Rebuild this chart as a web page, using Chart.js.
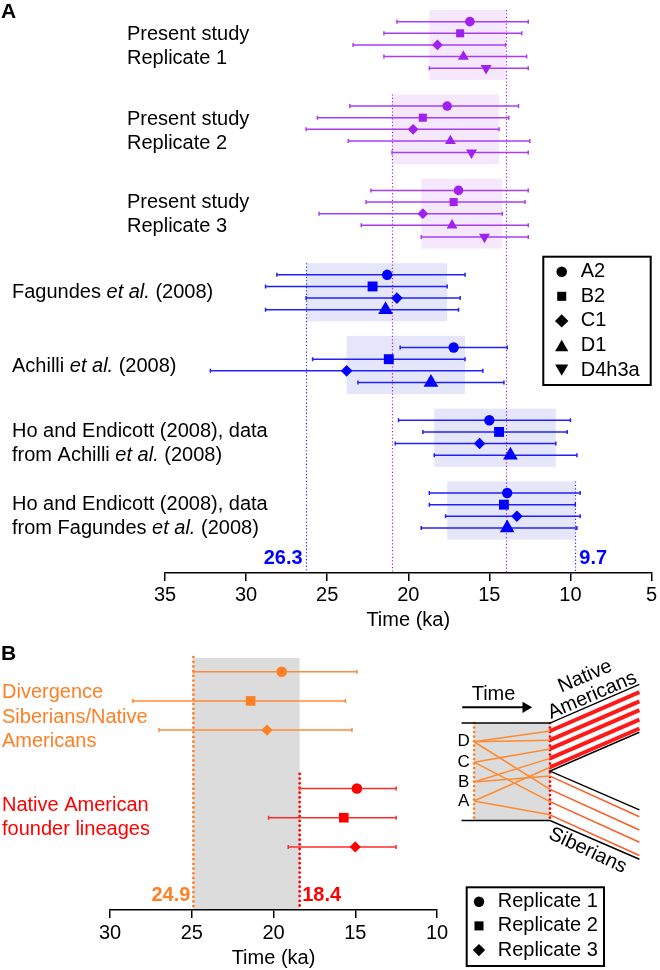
<!DOCTYPE html>
<html lang="en">
<head>
<meta charset="utf-8">
<title>Haplogroup ages</title>
<script src="https://cdn.jsdelivr.net/npm/chart.js@4.4.1/dist/chart.umd.min.js"></script>
<style>
  html, body { margin: 0; padding: 0; background: #fff; }
  #figure { position: relative; width: 660px; height: 970px; overflow: hidden; background: #fff; }
  #figure canvas { position: absolute; }
</style>
</head>
<body>
<div id="figure">
  <canvas id="panel-a" width="660" height="640" style="left:0;top:0"></canvas>
  <canvas id="panel-b" width="660" height="340" style="left:0;top:630px"></canvas>
  <canvas id="panel-b-scheme" width="220" height="240" style="left:440px;top:640px"></canvas>
</div>
<script>
(function () {
  'use strict';

  var FONT = '"Liberation Sans", Arial, Helvetica, sans-serif';

  // ---------------------------------------------------------------------------
  // Panel A data: haplogroup ages (ka), each row [estimate, older, younger]
  // ---------------------------------------------------------------------------

  var HAPLOGROUPS = ['A2', 'B2', 'C1', 'D1', 'D4h3a'];

  var REPLICATE_1 = [[16.2, 20.7, 12.6], [16.8, 21.5, 13.0], [18.2, 23.4, 14.0], [16.6, 21.5, 12.7], [15.2, 18.7, 12.6]];
  var REPLICATE_2 = [[17.6, 23.6, 13.2], [19.1, 25.6, 13.8], [19.7, 26.3, 14.4], [17.4, 23.7, 12.5], [16.1, 21.0, 12.6]];
  var REPLICATE_3 = [[16.9, 22.3, 12.6], [17.2, 22.6, 12.8], [19.1, 25.5, 14.2], [17.3, 22.9, 12.6], [15.3, 19.2, 12.6]];
  var FAGUNDES    = [[21.3, 28.1, 16.5], [22.2, 28.8, 17.6], [20.7, 26.3, 16.8], [21.4, 28.8, 16.9]];
  var ACHILLI     = [[17.2, 20.5, 13.9], [21.2, 25.9, 16.5], [23.8, 32.2, 15.4], [18.6, 23.1, 14.1]];
  var HO_ACHILLI  = [[15.0, 20.6, 10.0], [14.4, 19.1, 10.2], [15.6, 20.8, 10.9], [13.7, 18.4, 9.6]];
  var HO_FAGUNDES = [[13.9, 18.7, 9.4], [14.1, 18.7, 9.7], [13.3, 17.7, 9.4], [13.9, 19.2, 9.6]];

  // shaded range of each study (ka): [older, younger]
  var STUDY_RANGES = [[18.7, 14.0], [21.0, 14.4], [19.2, 14.2], [26.3, 17.6], [23.8, 16.5], [18.4, 10.9], [17.6, 9.7]];

  var STUDY_ROWS = [REPLICATE_1, REPLICATE_2, REPLICATE_3, FAGUNDES, ACHILLI, HO_ACHILLI, HO_FAGUNDES];
  var STUDY_KIND = ['present', 'present', 'present', 'published', 'published', 'published', 'published'];

  // *...* = italic
  var STUDY_LABELS = [
    ['Present study', 'Replicate 1'],
    ['Present study', 'Replicate 2'],
    ['Present study', 'Replicate 3'],
    ['Fagundes *et al.* (2008)'],
    ['Achilli *et al.* (2008)'],
    ['Ho and Endicott (2008), data', 'from Achilli *et al.* (2008)'],
    ['Ho and Endicott (2008), data', 'from Fagundes *et al.* (2008)']
  ];

  var TICKS_A = [35, 30, 25, 20, 15, 10, 5];

  // ---------------------------------------------------------------------------
  // Panel B data (ka), each row [estimate, older, younger]
  // ---------------------------------------------------------------------------

  var REPLICATES   = ['Replicate 1', 'Replicate 2', 'Replicate 3'];
  var DIVERGENCE   = [[19.5, 24.9, 14.9], [21.4, 28.6, 15.6], [20.4, 27.0, 15.2]];
  var FOUNDER_AGES = [[14.9, 18.4, 12.5], [15.7, 20.3, 12.5], [15.0, 19.1, 12.5]];
  var B_SERIES     = [DIVERGENCE, FOUNDER_AGES];
  var B_LABELS     = [['Divergence', 'Siberians/Native', 'Americans'], ['Native American', 'founder lineages']];
  var B_RANGE      = [24.9, 18.4];
  var TICKS_B      = [30, 25, 20, 15, 10];

  // Schematic (panel B, right), in schematic units
  var FOUNDER_LETTERS = ['D', 'C', 'B', 'A'];
  var FOUNDER_LANE    = [100.7, 122.3, 143.3, 163.3];
  var AMERICAN_FROM   = [0, 0, 1, 2, 3];
  var AMERICAN_LANE   = [89.3, 99, 108.3, 118.3, 127.7];
  var AMERICAN_END    = [48.3, 58, 67.3, 77.3, 86.7];
  var SIBERIAN_FROM   = [2, 0, 1, 3];
  var SIBERIAN_LANE   = [137, 151, 164, 178];
  var SIBERIAN_END    = [180, 194, 207, 221];

  // ---------------------------------------------------------------------------
  // Layout and styles
  // ---------------------------------------------------------------------------

  var MARKERS    = ['circle', 'rect', 'rectRot', 'triangle', 'triangle'];
  var MARKER_ROT = [0, 0, 0, 0, 180];

  var KIND_STYLE = {
    present:   { mark: '#A020F0', bar: '#A63FF2', band: '#F5E8FD', line: '#A020F0', values: false,
                 radius: [4.8, 5.7, 5.4, 6.3, 6.3] },
    published: { mark: '#0000FF', bar: '#2020FF', band: '#E6E6FA', line: '#2B2BFF', values: true,
                 radius: [5.2, 7.0, 5.8, 8.5, 8.5] }
  };

  var A_ROW_FIRST = 1.13, A_GROUP_GAP = 2.25, A_Y_MAX = 48.5, A_VALUE_ROW = 47.26;
  var A_LABEL_X = [127, 127, 127, 12, 12, 12, 12];
  var A_LABEL_SHIFT = [2, 2.5, 0.5, 0, 1.5, 6, 6];
  var A_LEGEND = { x: 543.3, y: 256.7, w: 107.4, h: 128.3, markX: 561.7, textX: 580.7, rowY: 271.7, rowGap: 24.6,
                   radius: [5.3, 6.4, 6.7, 7.6, 7.6] };

  var B_STYLE = [
    { mark: '#FF7F24', bar: '#FF8A3D', text: '#FF7F24' },
    { mark: '#FF0000', bar: '#FF2B2B', text: '#FF0000' }
  ];
  var B_ROW_START = [0, 4];
  var B_LABEL_ROW = [1.56, 5.0];
  var B_RADIUS = [5.3, 6.8, 5.6];
  var B_VALUE_ROW = 7.65;
  var B_TOP = 630;
  var B_LEGEND = { x: 466.7, y: 887.3 - B_TOP, w: 137.3, h: 78.7, markX: 479, textX: 497.7, rowY: 901.7 - B_TOP, rowGap: 24.2,
                   radius: [5.2, 6.4, 6.2] };

  var SCHEME = { start: 16, divergence: 29.3, split: 110, end: 205, top: 81, bottom: 184, fork: 131.7,
                 forkTop: 90.7, forkBottom: 172.7, topEnd: 40, bottomEnd: 225 };

  var LINE_GAP = 24;

  Chart.defaults.font.family = FONT;
  Chart.defaults.color = '#000';

  // ---------------------------------------------------------------------------
  // Utilities
  // ---------------------------------------------------------------------------

  function setFont(ctx, size, weight, style) {
    ctx.font = (style || 'normal') + ' ' + (weight || 'normal') + ' ' + size + 'px ' + FONT;
  }

  function drawRichLine(ctx, text, x, y, size, color) {
    ctx.fillStyle = color;
    ctx.textBaseline = 'middle';
    ctx.textAlign = 'left';
    text.split('*').forEach(function (part, i) {
      if (!part) return;
      setFont(ctx, size, 'normal', i % 2 ? 'italic' : 'normal');
      ctx.fillText(part, x, y);
      x += ctx.measureText(part).width;
    });
  }

  function drawMarker(ctx, style, x, y, r, rot) {
    ctx.beginPath();
    if (style === 'circle') {
      ctx.arc(x, y, r, 0, Math.PI * 2);
    } else if (style === 'rect') {
      var s = r * Math.SQRT1_2;
      ctx.rect(x - s, y - s, 2 * s, 2 * s);
    } else if (style === 'rectRot') {
      ctx.moveTo(x - r, y); ctx.lineTo(x, y - r); ctx.lineTo(x + r, y); ctx.lineTo(x, y + r);
    } else {
      var a = rot ? Math.PI : 0;
      y += rot ? -r / 4 : r / 4;
      for (var k = 0; k < 3; k++) {
        var ang = a + k * 2 * Math.PI / 3;
        ctx.lineTo(x + Math.sin(ang) * r, y - Math.cos(ang) * r);
      }
    }
    ctx.closePath();
    ctx.fill();
  }

  function dottedLine(ctx, x, y0, y1, color, width, dash, cap) {
    ctx.save();
    ctx.strokeStyle = color;
    ctx.lineWidth = width;
    ctx.lineCap = cap;
    ctx.setLineDash(dash);
    ctx.beginPath();
    ctx.moveTo(x, y0);
    ctx.lineTo(x, y1);
    ctx.stroke();
    ctx.restore();
  }

  function drawErrorBars(ctx, xs, ys, ds) {
    if (!ds.errorColor) return;
    var cap = 2;
    ctx.save();
    ctx.strokeStyle = ds.errorColor;
    ctx.lineWidth = 1.5;
    ds.data.forEach(function (p) {
      var y = ys.getPixelForValue(p.y);
      var x0 = xs.getPixelForValue(p.lo);
      var x1 = xs.getPixelForValue(p.hi);
      ctx.beginPath();
      ctx.moveTo(x0, y); ctx.lineTo(x1, y);
      ctx.moveTo(x0, y - cap); ctx.lineTo(x0, y + cap);
      ctx.moveTo(x1, y - cap); ctx.lineTo(x1, y + cap);
      ctx.stroke();
    });
    ctx.restore();
  }

  function timeAxis(ticks, axisHeight, tickPad) {
    return {
      type: 'linear',
      reverse: true,
      min: Math.min.apply(null, ticks),
      max: Math.max.apply(null, ticks),
      afterBuildTicks: function (s) { s.ticks = ticks.map(function (v) { return { value: v }; }); },
      afterFit: function (s) { s.height = axisHeight; },
      border: { display: true, color: '#000', width: 1.5 },
      grid: { display: true, drawOnChartArea: false, drawTicks: true, tickLength: 8, color: '#000', lineWidth: 1.5 },
      ticks: { color: '#000', padding: tickPad, font: { size: 20 }, maxRotation: 0, autoSkip: false },
      title: { display: true, text: 'Time (ka)', color: '#000', font: { size: 20 }, padding: 0 }
    };
  }

  function baseOptions(padding, scales) {
    return {
      responsive: false,
      animation: false,
      devicePixelRatio: 1,
      events: [],
      layout: { padding: padding },
      plugins: { legend: { display: false }, tooltip: { enabled: false } },
      scales: scales
    };
  }

  // ---------------------------------------------------------------------------
  // Panel A
  // ---------------------------------------------------------------------------

  var rowCursor = A_ROW_FIRST;
  var GROUPS_A = STUDY_ROWS.map(function (rows, i) {
    var first = rowCursor;
    rowCursor += rows.length + A_GROUP_GAP;
    return { rows: rows, first: first, last: first + rows.length - 1, kind: STUDY_KIND[i],
             range: STUDY_RANGES[i], label: STUDY_LABELS[i] };
  });

  var datasetsA = GROUPS_A.map(function (g) {
    var st = KIND_STYLE[g.kind];
    return {
      data: g.rows.map(function (r, i) { return { x: r[0], y: g.first + i, lo: r[1], hi: r[2] }; }),
      pointStyle: g.rows.map(function (r, i) { return MARKERS[i]; }),
      pointRotation: g.rows.map(function (r, i) { return MARKER_ROT[i]; }),
      pointRadius: g.rows.map(function (r, i) { return st.radius[i]; }),
      pointBackgroundColor: st.mark,
      pointBorderWidth: 0,
      clip: false,
      errorColor: st.bar
    };
  });

  // outermost shaded edges per study kind, drawn as dotted guides
  function envelope(kind) {
    var gs = GROUPS_A.filter(function (g) { return g.kind === kind; });
    var older = gs.reduce(function (a, b) { return b.range[0] > a.range[0] ? b : a; });
    var younger = gs.reduce(function (a, b) { return b.range[1] < a.range[1] ? b : a; });
    return [
      { value: older.range[0], top: older.first - 1, side: -1 },
      { value: younger.range[1], top: younger.first - 1, side: 1 }
    ];
  }

  var panelAPlugin = {
    id: 'panelA',
    beforeDatasetsDraw: function (chart) {
      var ctx = chart.ctx, xs = chart.scales.x, ys = chart.scales.y;
      ctx.save();
      GROUPS_A.forEach(function (g) {
        var x0 = xs.getPixelForValue(g.range[0]);
        var x1 = xs.getPixelForValue(g.range[1]);
        var y0 = ys.getPixelForValue(g.first - 1);
        var y1 = ys.getPixelForValue(g.last + 1);
        ctx.fillStyle = KIND_STYLE[g.kind].band;
        ctx.fillRect(x0, y0, x1 - x0, y1 - y0);
      });
      Object.keys(KIND_STYLE).forEach(function (kind) {
        envelope(kind).forEach(function (e) {
          var x = Math.round(xs.getPixelForValue(e.value)) + 0.5;
          dottedLine(ctx, x, ys.getPixelForValue(e.top), ys.bottom, KIND_STYLE[kind].line, 1.2, [1.2, 2.2], 'butt');
        });
      });
      chart.data.datasets.forEach(function (ds) { drawErrorBars(ctx, xs, ys, ds); });
      ctx.restore();
    },
    afterDraw: function (chart) {
      var ctx = chart.ctx, xs = chart.scales.x, ys = chart.scales.y;
      ctx.save();
      ctx.textBaseline = 'middle';
      ctx.textAlign = 'left';
      ctx.fillStyle = '#000';
      setFont(ctx, 21, 'bold');
      ctx.fillText('A', 1, 12.5);

      GROUPS_A.forEach(function (g, i) {
        var cy = ys.getPixelForValue((g.first + g.last) / 2) + A_LABEL_SHIFT[i];
        var n = g.label.length;
        g.label.forEach(function (line, k) {
          drawRichLine(ctx, line, A_LABEL_X[i], cy + (k - (n - 1) / 2) * LINE_GAP, 20, '#000');
        });
      });

      Object.keys(KIND_STYLE).forEach(function (kind) {
        if (!KIND_STYLE[kind].values) return;
        envelope(kind).forEach(function (e) {
          var x = xs.getPixelForValue(e.value);
          setFont(ctx, 20, 'bold');
          ctx.fillStyle = KIND_STYLE[kind].mark;
          ctx.textAlign = e.side < 0 ? 'right' : 'left';
          ctx.fillText(e.value.toFixed(1), x + (e.side < 0 ? -3.5 : 4), ys.getPixelForValue(A_VALUE_ROW));
        });
      });

      var L = A_LEGEND;
      ctx.lineWidth = 2;
      ctx.strokeStyle = '#000';
      ctx.strokeRect(L.x, L.y, L.w, L.h);
      HAPLOGROUPS.forEach(function (h, i) {
        var y = L.rowY + i * L.rowGap;
        ctx.fillStyle = '#000';
        drawMarker(ctx, MARKERS[i], L.markX, y, L.radius[i], MARKER_ROT[i]);
        setFont(ctx, 20);
        ctx.textAlign = 'left';
        ctx.fillText(h, L.textX, y);
      });
      ctx.restore();
    }
  };

  new Chart(document.getElementById('panel-a'), {
    type: 'scatter',
    data: { datasets: datasetsA },
    options: baseOptions({ left: 165, right: 6, top: 0, bottom: 8 }, {
      x: timeAxis(TICKS_A, 59, 2),
      y: { type: 'linear', display: false, reverse: true, min: 0, max: A_Y_MAX }
    }),
    plugins: [panelAPlugin]
  });

  // ---------------------------------------------------------------------------
  // Panel B (left): divergence and founder ages
  // ---------------------------------------------------------------------------

  var datasetsB = B_SERIES.map(function (rows, s) {
    return {
      data: rows.map(function (r, i) { return { x: r[0], y: B_ROW_START[s] + i, lo: r[1], hi: r[2] }; }),
      pointStyle: rows.map(function (r, i) { return MARKERS[i]; }),
      pointRadius: rows.map(function (r, i) { return B_RADIUS[i]; }),
      pointBackgroundColor: B_STYLE[s].mark,
      pointBorderWidth: 0,
      clip: false,
      errorColor: B_STYLE[s].bar
    };
  });

  var panelBPlugin = {
    id: 'panelB',
    beforeDatasetsDraw: function (chart) {
      var ctx = chart.ctx, xs = chart.scales.x, ys = chart.scales.y;
      ctx.save();
      var x0 = xs.getPixelForValue(B_RANGE[0]);
      var x1 = xs.getPixelForValue(B_RANGE[1]);
      var top = ys.getPixelForValue(B_ROW_START[0] - 0.47);
      ctx.fillStyle = '#DCDCDC';
      ctx.fillRect(x0, top, x1 - x0, ys.bottom - top - 1);
      B_RANGE.forEach(function (v, s) {
        dottedLine(ctx, xs.getPixelForValue(v), ys.getPixelForValue(B_ROW_START[s] - 0.5), ys.bottom,
                   B_STYLE[s].mark, 2.8, [0, 4.7], 'round');
      });
      chart.data.datasets.forEach(function (ds) { drawErrorBars(ctx, xs, ys, ds); });
      ctx.restore();
    },
    afterDraw: function (chart) {
      var ctx = chart.ctx, xs = chart.scales.x, ys = chart.scales.y;
      ctx.save();
      ctx.textBaseline = 'middle';
      ctx.textAlign = 'left';
      ctx.fillStyle = '#000';
      setFont(ctx, 21, 'bold');
      ctx.fillText('B', 1, 654.7 - B_TOP);

      B_LABELS.forEach(function (lines, s) {
        var cy = ys.getPixelForValue(B_LABEL_ROW[s]);
        lines.forEach(function (line, k) {
          drawRichLine(ctx, line, 2, cy + (k - (lines.length - 1) / 2) * 24.5, 20, B_STYLE[s].text);
        });
      });

      B_RANGE.forEach(function (v, s) {
        var x = xs.getPixelForValue(v);
        setFont(ctx, 20, 'bold');
        ctx.fillStyle = B_STYLE[s].text;
        ctx.textAlign = s === 0 ? 'right' : 'left';
        ctx.fillText(v.toFixed(1), x + (s === 0 ? -3 : 2.5), ys.getPixelForValue(B_VALUE_ROW));
      });

      var L = B_LEGEND;
      ctx.lineWidth = 2;
      ctx.strokeStyle = '#000';
      ctx.strokeRect(L.x, L.y, L.w, L.h);
      REPLICATES.forEach(function (name, i) {
        var y = L.rowY + i * L.rowGap;
        ctx.fillStyle = '#000';
        drawMarker(ctx, MARKERS[i], L.markX, y, L.radius[i], 0);
        setFont(ctx, 20);
        ctx.textAlign = 'left';
        ctx.fillText(name, L.textX, y);
      });
      ctx.restore();
    }
  };

  new Chart(document.getElementById('panel-b'), {
    type: 'scatter',
    data: { datasets: datasetsB },
    options: baseOptions({ left: 110, right: 223, top: 12.5, bottom: 0 }, {
      x: timeAxis(TICKS_B, 60, 3),
      y: { type: 'linear', display: false, reverse: true, min: -1, max: 8.16 }
    }),
    plugins: [panelBPlugin]
  });

  // ---------------------------------------------------------------------------
  // Panel B (right): lineage schematic
  // ---------------------------------------------------------------------------

  function path(points, color, width, extra) {
    var ds = {
      data: points.map(function (p) { return { x: p[0], y: p[1] }; }),
      showLine: true,
      borderColor: color,
      borderWidth: width,
      pointRadius: 0,
      tension: 0,
      fill: false,
      clip: false
    };
    return Object.assign(ds, extra || {});
  }

  var S = SCHEME;
  var schemeSets = [];
  AMERICAN_LANE.forEach(function (y, i) {
    schemeSets.push(path([[S.divergence, FOUNDER_LANE[AMERICAN_FROM[i]]], [S.split, y]], '#FF8A30', 1.5));
  });
  SIBERIAN_LANE.forEach(function (y, i) {
    schemeSets.push(path([[S.divergence, FOUNDER_LANE[SIBERIAN_FROM[i]]], [S.split, y]], '#FF8A30', 1.5));
    schemeSets.push(path([[S.split, y], [S.end, SIBERIAN_END[i]]], '#FF5A24', 1.5));
  });
  AMERICAN_LANE.forEach(function (y, i) {
    schemeSets.push(path([[S.split, y], [S.end, AMERICAN_END[i]]], '#FF1A1A', 4));
  });
  schemeSets.push(path([[S.start, S.top], [S.split, S.top], [S.end, S.topEnd]], '#000', 1.5));
  schemeSets.push(path([[S.end, S.forkTop], [S.split, S.fork], [S.end, S.forkBottom]], '#000', 1.5));
  schemeSets.push(path([[S.start, S.bottom], [S.split, S.bottom], [S.end, S.bottomEnd]], '#000', 1.5));
  schemeSets.push(path([[S.divergence, S.top], [S.divergence, S.bottom]], '#FF7F24', 2.8,
                       { borderDash: [0, 4.5], borderCapStyle: 'round' }));
  schemeSets.push(path([[S.split, S.top], [S.split, S.bottom]], '#FF0000', 2.8,
                       { borderDash: [0, 4.5], borderCapStyle: 'round' }));
  schemeSets.push(path([[16.7, 64.3], [84.2, 64.3]], '#000', 2, {
    pointRadius: [0, 6.5], pointStyle: 'triangle', pointRotation: 90,
    pointBackgroundColor: '#000', pointBorderWidth: 0
  }));

  var schemePlugin = {
    id: 'scheme',
    beforeDatasetsDraw: function (chart) {
      var ctx = chart.ctx, xs = chart.scales.x, ys = chart.scales.y;
      var x0 = xs.getPixelForValue(S.divergence), x1 = xs.getPixelForValue(S.split);
      var y0 = ys.getPixelForValue(S.top), y1 = ys.getPixelForValue(S.bottom);
      ctx.save();
      ctx.fillStyle = '#DCDCDC';
      ctx.fillRect(x0, y0, x1 - x0, y1 - y0);
      ctx.restore();
    },
    afterDatasetsDraw: function (chart) {
      var ctx = chart.ctx, xs = chart.scales.x, ys = chart.scales.y;
      ctx.save();
      ctx.fillStyle = '#000';
      ctx.textBaseline = 'middle';
      ctx.textAlign = 'center';
      setFont(ctx, 20);
      ctx.fillText('Time', xs.getPixelForValue(50), ys.getPixelForValue(50.5));
      setFont(ctx, 17);
      FOUNDER_LETTERS.forEach(function (l, i) {
        ctx.fillText(l, xs.getPixelForValue(18.3), ys.getPixelForValue(FOUNDER_LANE[i]));
      });
      [['Native', 147.3, 31.7, -23], ['Americans', 155, 51.7, -23], ['Siberians', 150, 215.7, 25]].forEach(function (t) {
        ctx.save();
        ctx.translate(xs.getPixelForValue(t[1]), ys.getPixelForValue(t[2]));
        ctx.rotate(t[3] * Math.PI / 180);
        setFont(ctx, 20);
        ctx.fillText(t[0], 0, 0);
        ctx.restore();
      });
      ctx.restore();
    }
  };

  new Chart(document.getElementById('panel-b-scheme'), {
    type: 'scatter',
    data: { datasets: schemeSets },
    options: baseOptions(0, {
      x: { type: 'linear', display: false, min: 0, max: 220 },
      y: { type: 'linear', display: false, reverse: true, min: 0, max: 240 }
    }),
    plugins: [schemePlugin]
  });

})();
</script>
</body>
</html>
